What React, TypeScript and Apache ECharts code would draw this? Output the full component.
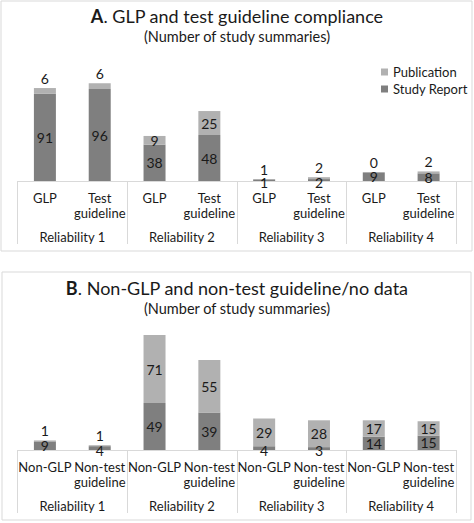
import React, { useEffect, useRef } from "react";
import * as echarts from "echarts";

const categoriesA = ["GLP", "Test\nguideline", "GLP", "Test\nguideline", "GLP", "Test\nguideline", "GLP", "Test\nguideline"];
const categoriesB = ["Non-GLP", "Non-test\nguideline", "Non-GLP", "Non-test\nguideline", "Non-GLP", "Non-test\nguideline", "Non-GLP", "Non-test\nguideline"];
const groups = ["Reliability 1", "Reliability 2", "Reliability 3", "Reliability 4"];

const studyReportA = [91, 96, 38, 48, 1, 2, 9, 8];
const publicationA = [6, 6, 9, 25, 1, 2, 0, 2];
const studyReportB = [9, 4, 49, 39, 4, 3, 14, 15];
const publicationB = [1, 1, 71, 55, 29, 28, 17, 15];

const FONT = "Lato";
const TXT = "#1a1a1a";
const LINE = "#d9d9d9";
const DARK = "#7f7f7f";
const LIGHT = "#b1b1b1";

function pubData(vals: number[]) {
  return vals.map((v) => (v < 8 ? { value: v, label: { position: "top", distance: 3 } } : { value: v }));
}
function repData(vals: number[]) {
  return vals.map((v) => (v < 5 ? { value: v, label: { position: "inside", offset: [0, 2] } } : { value: v }));
}

export default function App() {
  const ref = useRef<HTMLDivElement>(null);
  useEffect(() => {
    document.body.style.margin = "0";
    const chart = echarts.init(ref.current!, null, { renderer: "svg" });
    const baseLabel = { show: true, position: "inside", fontSize: 14, color: TXT, fontFamily: FONT };
    const xCat = (gi: number, data: string[]) => ({
      gridIndex: gi,
      type: "category",
      data,
      axisLine: { lineStyle: { color: LINE, width: 1 } },
      axisTick: { show: false },
      axisLabel: { interval: 0, fontSize: 13, lineHeight: 15, margin: 9, color: TXT, fontFamily: FONT },
    });
    const xGroup = (gi: number) => ({
      gridIndex: gi,
      type: "category",
      data: groups,
      position: "bottom",
      axisLine: { show: false },
      axisTick: { show: true, length: 63, lineStyle: { color: LINE, width: 1 } },
      axisLabel: { interval: 0, fontSize: 13, margin: 49, color: TXT, fontFamily: FONT },
    });
    const titleCommon = {
      left: "center",
      padding: 0,
      itemGap: 4,
      textStyle: { fontSize: 18, fontWeight: "normal", color: TXT, fontFamily: FONT, rich: { b: { fontSize: 18, fontWeight: "bold", color: TXT, fontFamily: FONT } } },
      subtextStyle: { fontSize: 14.5, color: TXT, fontFamily: FONT },
    };
    chart.setOption({
      animation: false,
      textStyle: { fontFamily: FONT },
      title: [
        { ...titleCommon, top: 7, text: "{b|A}. GLP and test guideline compliance", subtext: "(Number of study summaries)" },
        { ...titleCommon, top: 279, text: "{b|B}. Non-GLP and non-test guideline/no data", subtext: "(Number of study summaries)" },
      ],
      legend: {
        data: ["Publication", "Study Report"],
        orient: "vertical",
        left: 381,
        top: 65,
        padding: 0,
        icon: "rect",
        itemWidth: 7,
        itemHeight: 7,
        itemGap: 3,
        textStyle: { fontSize: 13, color: TXT, fontFamily: FONT, lineHeight: 14 },
      },
      graphic: [
        { type: "rect", shape: { x: 1, y: 1, width: 471, height: 250 }, style: { fill: "none", stroke: LINE, lineWidth: 1 }, silent: true },
        { type: "rect", shape: { x: 2, y: 272, width: 469, height: 248 }, style: { fill: "none", stroke: LINE, lineWidth: 1 }, silent: true },
        { type: "line", shape: { x1: 456, y1: 181.5, x2: 472, y2: 181.5 }, style: { stroke: LINE, lineWidth: 1 }, silent: true },
      ],
      grid: [
        { left: 17.5, right: 18, top: 66, height: 115, outerBoundsMode: "none" },
        { left: 17.5, right: 18, top: 335, height: 115, outerBoundsMode: "none" },
      ],
      xAxis: [xCat(0, categoriesA), xGroup(0), xCat(1, categoriesB), xGroup(1)],
      yAxis: [
        { gridIndex: 0, type: "value", min: 0, max: 120, show: false },
        { gridIndex: 1, type: "value", min: 0, max: 120, show: false },
      ],
      series: [
        { name: "Study Report", type: "bar", stack: "a", xAxisIndex: 0, yAxisIndex: 0, barWidth: 22, itemStyle: { color: DARK }, label: baseLabel, data: repData(studyReportA) },
        { name: "Publication", type: "bar", stack: "a", xAxisIndex: 0, yAxisIndex: 0, barWidth: 22, itemStyle: { color: LIGHT }, label: baseLabel, data: pubData(publicationA) },
        { name: "Study Report", type: "bar", stack: "b", xAxisIndex: 2, yAxisIndex: 1, barWidth: 22, itemStyle: { color: DARK }, label: baseLabel, data: repData(studyReportB) },
        { name: "Publication", type: "bar", stack: "b", xAxisIndex: 2, yAxisIndex: 1, barWidth: 22, itemStyle: { color: LIGHT }, label: baseLabel, data: pubData(publicationB) },
      ],
    });
    return () => chart.dispose();
  }, []);
  return <div ref={ref} style={{ width: 474, height: 523 }} />;
}
